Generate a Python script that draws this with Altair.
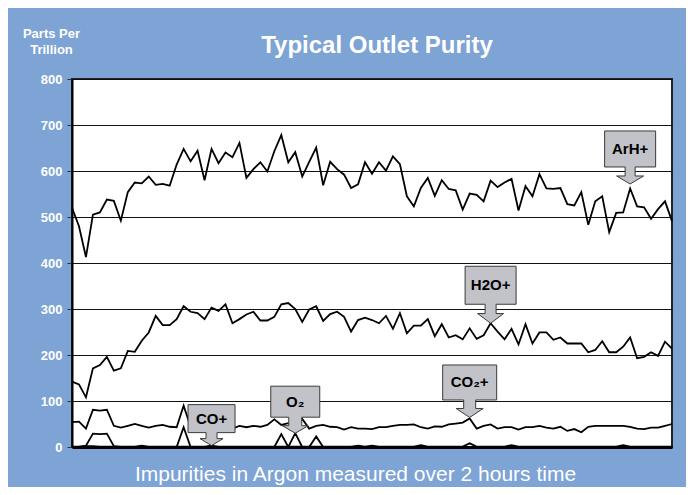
import altair as alt
import pandas as pd

# ---------------- data ----------------
arh_plus = [520, 480, 413, 505, 510, 538, 535, 492, 554, 575, 573, 588, 570, 572, 568,
            614, 648, 621, 644, 580, 648, 617, 640, 630, 661, 585, 604, 619, 599, 643,
            678, 619, 641, 588, 620, 651, 569, 620, 604, 592, 563, 571, 619, 594, 619,
            601, 632, 615, 545, 523, 563, 585, 546, 580, 561, 558, 516, 551, 548, 534,
            579, 565, 575, 583, 514, 567, 545, 593, 562, 561, 563, 528, 525, 554, 483,
            534, 545, 467, 509, 510, 562, 523, 521, 496, 517, 534, 491]
h2o_plus = [142, 136, 108, 171, 178, 196, 166, 171, 209, 207, 231, 249, 285, 265, 265,
            278, 306, 294, 291, 278, 303, 296, 310, 269, 278, 288, 294, 275, 275, 283,
            310, 313, 300, 272, 299, 306, 274, 289, 294, 283, 251, 276, 281, 276, 269,
            285, 257, 291, 247, 264, 264, 278, 241, 267, 238, 243, 234, 258, 235, 243,
            269, 251, 234, 257, 223, 267, 225, 249, 249, 233, 238, 225, 225, 225, 206,
            211, 230, 206, 206, 218, 238, 193, 196, 206, 198, 229, 214]
co2_plus = [54, 55, 40, 81, 79, 81, 46, 42, 46, 50, 46, 42, 46, 48, 44, 43, 90,
            44, 45, 46, 48, 40, 44, 40, 46, 43, 46, 44, 48, 60, 48, 52, 46, 61, 40, 46,
            48, 44, 43, 38, 43, 40,
            40, 39, 43, 43, 46, 48, 48, 49, 43, 40, 45, 44, 49, 51, 53, 62, 40, 46, 49,
            40, 43, 43, 38, 43,
            43, 46, 42, 40, 44, 35, 39, 32, 44, 46, 46, 46, 46, 46, 44, 40, 39, 42, 42,
            46, 50]
o2 = [0, 0, 3, 29, 28, 29, 2, 0, 0, 0, 0, 0, 0, 0, 0, 0, 43, 0, 0, 0, 0, 0, 0, 0,
      0, 0, 0, 0, 0, 0, 28, 0, 30, 0, 0, 23, 0, 0, 0, 0, 0, 0, 0, 0, 0, 0, 0, 0,
      0, 0, 0, 0, 0, 0, 0, 0, 0, 0, 0, 0, 0, 0, 0, 0, 0, 0, 0, 0, 0, 0, 0, 0,
      0, 0, 0, 0, 0, 0, 0, 0, 0, 0, 0, 0, 0, 0, 0]
co_plus = [1, 1, 2, 2, 1, 1, 1, 1, 1, 1, 3, 1, 1, 1, 1, 1, 1, 1, 1, 1, 3, 1, 1, 1,
           1, 1, 1, 1, 1, 1, 1, 1, 1, 1, 1, 1, 1, 1, 1, 1, 1, 3, 1, 3, 1, 1, 1, 1,
           1, 1, 4, 1, 1, 1, 1, 1, 1, 8, 1, 1, 1, 1, 1, 4, 1, 1, 1, 1, 1, 1, 1, 1,
           1, 1, 1, 1, 1, 1, 1, 4, 1, 1, 1, 1, 1, 1, 1]

series_names = ["ArH+", "H2O+", "CO2+", "O2", "CO+"]
y_ticks = [0, 100, 200, 300, 400, 500, 600, 700, 800]
chart_title = "Typical Outlet Purity"
y_title = ["Parts Per", "Trillion"]
x_title = "Impurities in Argon measured over 2 hours time"

callout_text = ["ArH+", "H2O+", "CO\u2082+", "O\u2082", "CO+"]
callout_series = ["ArH+", "H2O+", "CO2+", "O2", "CO+"]
callout_index = [80, 60, 57, 32, 20]

# ---------------- build table ----------------
all_values = [arh_plus, h2o_plus, co2_plus, o2, co_plus]
rows = []
for name, vals in zip(series_names, all_values):
    for i, v in enumerate(vals):
        rows.append({"t": i, "ppt": v, "series": name})
df = pd.DataFrame(rows)
n = len(arh_plus)

BG = "#7ea3d5"
FONT = "Liberation Sans"

x_enc = alt.X(
    "t:Q",
    scale=alt.Scale(domain=[0, n - 1], nice=False, zero=False),
    axis=alt.Axis(
        title=x_title, labels=False, ticks=False, grid=False,
        domain=True, domainColor="black", domainWidth=3,
        titleColor="white", titleFont=FONT, titleFontSize=21,
        titleFontWeight="normal", titleX=283, titleY=33,
        titleAlign="center", titleBaseline="alphabetic",
    ),
)
y_enc = alt.Y(
    "ppt:Q",
    scale=alt.Scale(domain=[0, 800], nice=False),
    axis=alt.Axis(
        values=y_ticks, title=y_title, titleAngle=0, titleX=-21, titleY=-42,
        titleAlign="center", titleBaseline="alphabetic", titleLineHeight=16,
        titleColor="white", titleFont=FONT, titleFontSize=13, titleFontWeight="bold",
        labelColor="white", labelFont=FONT, labelFontSize=13, labelFontWeight="bold",
        labelPadding=5, tickColor="#333333", tickSize=5, tickWidth=1,
        grid=True, gridColor="#111111", gridWidth=1,
        domainColor="black", domainWidth=2,
    ),
)

lines = alt.Chart(df).mark_line(color="black").encode(
    x=x_enc,
    y=y_enc,
    detail="series:N",
    strokeWidth=alt.StrokeWidth(
        "series:N",
        scale=alt.Scale(domain=series_names, range=[1.8, 1.8, 1.3, 1.3, 1.3]),
        legend=None,
    ),
)

# callout geometry (pixels relative to the pointed data value):
# box width, box top, box bottom, stem width, head top, head width, tip
geoms = {
    "ArH+": (51, -57.5, -21.5, 10, -12.5, 27, -4.5),
    "H2O+": (51, -57.0, -19.0, 11, -9.7, 26, 0),
    "CO2+": (54, -53.5, -18.5, 12, -10.0, 27, -1),
    "O2": (49, -47.0, -16.0, 13, -7.5, 26, 0),
    "CO+": (47, -41.0, -13.0, 11, -7.0, 23, 0),
}


def callout_path(bw, bt, bb, sw, ht, hw, tip):
    pts = [(-bw / 2, bt), (bw / 2, bt), (bw / 2, bb), (sw / 2, bb), (sw / 2, ht),
           (hw / 2, ht), (0, tip), (-hw / 2, ht), (-sw / 2, ht), (-sw / 2, bb),
           (-bw / 2, bb)]
    return "M" + "L".join(f"{x:.1f},{y:.1f}" for x, y in pts) + "Z"


layers = [lines]
for label, sname, idx in zip(callout_text, callout_series, callout_index):
    vals = all_values[series_names.index(sname)]
    cdf = pd.DataFrame({"t": [idx], "ppt": [vals[idx]], "label": [label]})
    g = geoms[sname]
    box = alt.Chart(cdf).mark_point(
        shape=callout_path(*g), size=4, filled=True, fill="#c2c2c9",
        stroke="#3a3a3a", strokeWidth=1, opacity=1, fillOpacity=1,
    ).encode(x=x_enc, y=y_enc)
    txt = alt.Chart(cdf).mark_text(
        dy=(g[1] + g[2]) / 2, font=FONT, fontWeight="bold", fontSize=15,
        color="black", align="center", baseline="middle",
    ).encode(x=x_enc, y=y_enc, text="label:N")
    layers += [box, txt]

chart = alt.layer(*layers).properties(
    width=600,
    height=368,
    padding={"left": 64, "top": 71, "right": 14, "bottom": 40},
    autosize=alt.AutoSizeParams(type="none"),
    background=BG,
    title=alt.TitleParams(
        chart_title, color="white", font=FONT, fontSize=24, fontWeight="bold",
        anchor="middle", dx=5, dy=50, baseline="alphabetic", offset=0,
    ),
).configure_view(fill="white", stroke="#222222", strokeWidth=2)

chart.save("out.html", embed_options={"renderer": "svg", "actions": False})
